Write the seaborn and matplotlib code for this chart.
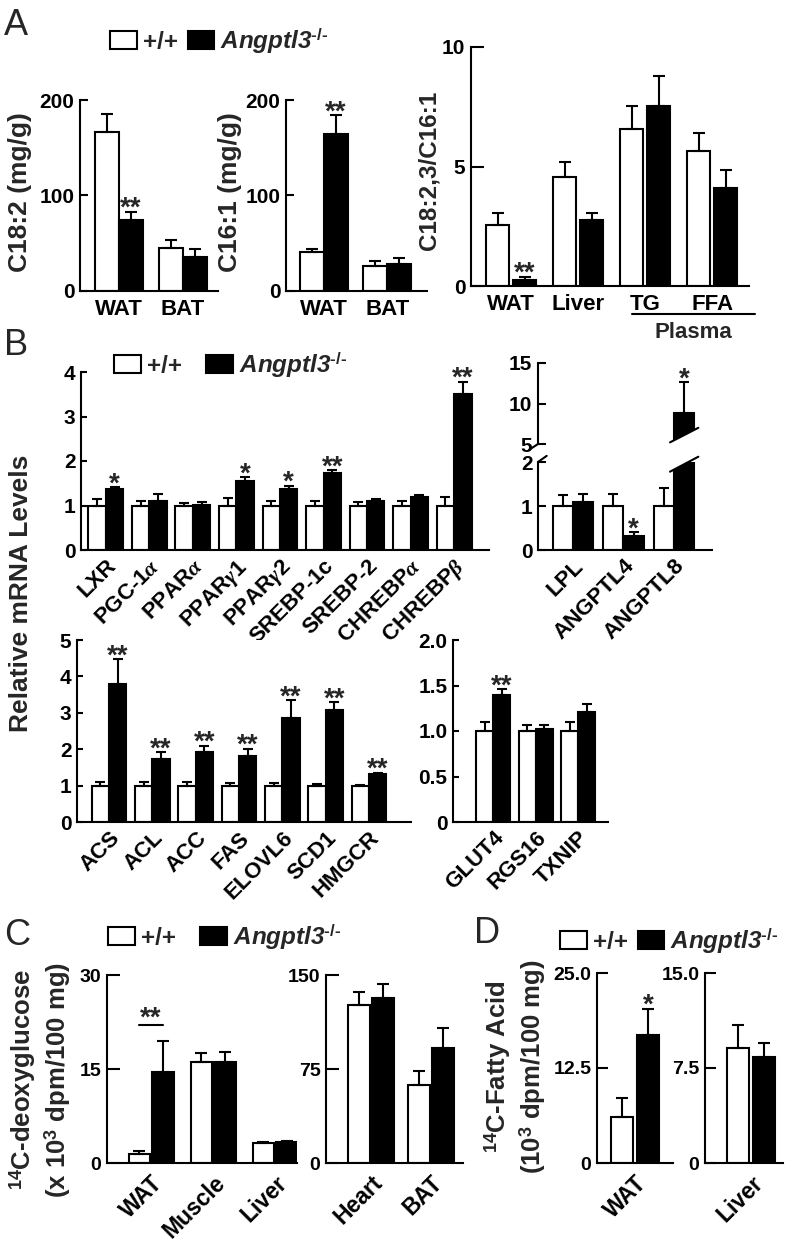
import numpy as np
import pandas as pd
import seaborn as sns
import matplotlib.pyplot as plt
from matplotlib.patches import Patch, Polygon

# ---- data ----
genotypes = ['+/+', 'Angptl3$^{\\text{-/-}}$']

# panel A
a_tissues = ['WAT', 'BAT']
c182_wt, c182_wt_err = [166, 45], [19, 8]
c182_ko, c182_ko_err = [74, 36], [9, 8]
c182_stars = ['**', '']
c161_wt, c161_wt_err = [41, 26], [3, 5]
c161_ko, c161_ko_err = [164, 28], [20, 7]
c161_stars = ['**', '']
ratio_cats = ['WAT', 'Liver', 'TG', 'FFA']
ratio_wt, ratio_wt_err = [2.55, 4.54, 6.55, 5.65], [0.5, 0.65, 1.0, 0.75]
ratio_ko, ratio_ko_err = [0.25, 2.76, 7.55, 4.12], [0.13, 0.3, 1.25, 0.75]
ratio_stars = ['**', '', '', '']

# panel B
b1_genes = ['LXR', 'PGC-1$\\alpha$', 'PPAR$\\alpha$', 'PPAR$\\gamma\\mathit{1}$', 'PPAR$\\gamma\\mathit{2}$',
            'SREBP-1c', 'SREBP-2', 'CHREBP$\\alpha$', 'CHREBP$\\beta$']
b1_wt = [1.0, 1.0, 1.0, 1.0, 1.0, 1.0, 1.0, 1.0, 1.0]
b1_wt_err = [0.14, 0.11, 0.05, 0.16, 0.11, 0.10, 0.08, 0.10, 0.18]
b1_ko = [1.37, 1.10, 1.01, 1.55, 1.38, 1.72, 1.11, 1.20, 3.51]
b1_ko_err = [0.04, 0.16, 0.07, 0.08, 0.06, 0.07, 0.03, 0.04, 0.27]
b1_stars = ['*', '', '', '*', '*', '**', '', '', '**']

b2_genes = ['LPL', 'ANGPTL4', 'ANGPTL8']
b2_wt, b2_wt_err = [1.0, 1.0, 1.0], [0.25, 0.28, 0.41]
b2_ko, b2_ko_err = [1.10, 0.32, 8.8], [0.18, 0.08, 3.85]
b2_stars = ['', '*', '*']

b3_genes = ['ACS', 'ACL', 'ACC', 'FAS', 'ELOVL6', 'SCD1', 'HMGCR']
b3_wt = [1.0, 1.0, 1.0, 1.0, 1.0, 1.0, 1.0]
b3_wt_err = [0.10, 0.10, 0.09, 0.07, 0.07, 0.05, 0.03]
b3_ko = [3.78, 1.74, 1.92, 1.80, 2.86, 3.08, 1.32]
b3_ko_err = [0.69, 0.18, 0.18, 0.21, 0.49, 0.21, 0.03]
b3_stars = ['**', '**', '**', '**', '**', '**', '**']

b4_genes = ['GLUT4', 'RGS16', 'TXNIP']
b4_wt, b4_wt_err = [1.0, 1.0, 1.0], [0.10, 0.07, 0.10]
b4_ko, b4_ko_err = [1.40, 1.02, 1.21], [0.06, 0.05, 0.09]
b4_stars = ['**', '', '']

# panel C
c1_tissues = ['WAT', 'Muscle', 'Liver']
c1_wt, c1_wt_err = [1.5, 16.1, 3.2], [0.45, 1.4, 0.2]
c1_ko, c1_ko_err = [14.6, 16.1, 3.35], [4.9, 1.6, 0.15]
c2_tissues = ['Heart', 'BAT']
c2_wt, c2_wt_err = [126, 62.4], [10.7, 11.4]
c2_ko, c2_ko_err = [131.4, 91.6], [11.4, 15.9]

# panel D
d1_tissues = ['WAT']
d1_wt, d1_wt_err = [6.0], [2.55]
d1_ko, d1_ko_err = [16.8], [3.5]
d1_stars = ['*']
d2_tissues = ['Liver']
d2_wt, d2_wt_err = [9.08], [1.84]
d2_ko, d2_ko_err = [8.37], [1.1]

# ---- style ----
sns.set_theme(style='ticks')
plt.rcParams['font.family'] = ['Liberation Sans', 'DejaVu Sans']
plt.rcParams['font.weight'] = 'bold'
plt.rcParams['mathtext.fontset'] = 'custom'
plt.rcParams['mathtext.rm'] = 'Liberation Sans:bold'
plt.rcParams['mathtext.it'] = 'Liberation Serif:italic'
plt.rcParams['mathtext.bf'] = 'Liberation Sans:bold'
plt.rcParams['axes.edgecolor'] = 'black'
plt.rcParams['axes.linewidth'] = 1.5
plt.rcParams['xtick.color'] = 'black'
plt.rcParams['ytick.color'] = 'black'

palette = {genotypes[0]: 'white', genotypes[1]: 'black'}

W, H = 789, 1244
fig = plt.figure(figsize=(W / 100, H / 100), dpi=100)
fig.patch.set_facecolor('white')


def box(l, t, r, b):
    return fig.add_axes([l / W, 1 - b / H, (r - l) / W, (b - t) / H])


def frame(cats, wt, ko):
    return pd.DataFrame({'cat': cats * 2,
                         'geno': [genotypes[0]] * len(cats) + [genotypes[1]] * len(cats),
                         'val': list(wt) + list(ko)})


def bars(ax, cats, wt, wt_err, ko, ko_err, stars=None, width=0.8, gap=0.0, cap=4.5, star_size=20):
    sns.barplot(data=frame(cats, wt, ko), x='cat', y='val', hue='geno', order=cats,
                hue_order=genotypes, palette=palette, width=width, gap=gap,
                edgecolor='black', linewidth=1.5, errorbar=None, legend=False, ax=ax)
    errs = list(wt_err) + list(ko_err)
    marks = [''] * len(cats) + list(stars if stars else [''] * len(cats))
    for p, e, s in zip(list(ax.patches), errs, marks):
        x = p.get_x() + p.get_width() / 2
        top = p.get_height()
        ax.errorbar(x, top, yerr=[[0], [e]], fmt='none', ecolor='black', elinewidth=1.5,
                    capsize=cap, capthick=1.5)
        if s:
            ax.annotate(s, (x, top + e), xytext=(0, -3), textcoords='offset points',
                        ha='center', va='baseline', fontsize=star_size, fontweight='bold')


def style(ax, xlim, ylim, yticks, ylabels, ysize=15, xsize=16, tick_len=6, rot=False, xpad=6):
    ax.set_xlim(xlim)
    ax.set_ylim(ylim)
    ax.set_yticks(yticks)
    ax.set_yticklabels(ylabels)
    ax.set_xlabel('')
    ax.set_ylabel('')
    sns.despine(ax=ax)
    ax.tick_params(axis='y', direction='in', length=tick_len, width=1.5, labelsize=ysize, pad=4)
    ax.tick_params(axis='x', length=0, labelsize=xsize, pad=xpad)
    if rot:
        for lab in ax.get_xticklabels():
            lab.set_rotation(45)
            lab.set_ha('right')
            lab.set_rotation_mode('anchor')


def legend(x, y, size, colsp):
    handles = [Patch(facecolor='white', edgecolor='black', linewidth=1.5),
               Patch(facecolor='black', edgecolor='black', linewidth=1.5)]
    leg = fig.legend(handles, genotypes, loc='center left', bbox_to_anchor=(x / W, 1 - y / H),
                     ncol=2, frameon=False, fontsize=size, handlelength=1.1, handleheight=0.75,
                     handletextpad=0.25, columnspacing=colsp, borderpad=0, borderaxespad=0)
    for t in leg.get_texts():
        t.set_fontweight('bold')
    leg.get_texts()[1].set_fontstyle('italic')


def ylab(x, y, text, size, ls=1.1):
    fig.text(x / W, 1 - y / H, text, rotation=90, ha='center', va='center',
             fontsize=size, fontweight='bold', linespacing=ls, multialignment='center')


def letter(x, y, s):
    fig.text(x / W, 1 - y / H, s, fontsize=26, fontweight='normal', ha='left', va='top')


# ---- panel A ----
letter(4, 8, 'A')
legend(110, 41, 17.5, 0.4)

ax = box(80, 100, 218, 291)
bars(ax, a_tissues, c182_wt, c182_wt_err, c182_ko, c182_ko_err, c182_stars, width=0.76)
style(ax, (-0.61, 1.55), (0, 200), [0, 100, 200], ['0', '100', '200'])
ylab(20, 192, 'C18:2 (mg/g)', 19)

ax = box(286, 100, 427, 291)
bars(ax, a_tissues, c161_wt, c161_wt_err, c161_ko, c161_ko_err, c161_stars, width=0.76)
style(ax, (-0.6, 1.63), (0, 200), [0, 100, 200], ['0', '100', '200'])
ylab(230, 192, 'C16:1 (mg/g)', 19)

ax = box(471, 47, 749, 286)
bars(ax, ratio_cats, ratio_wt, ratio_wt_err, ratio_ko, ratio_ko_err, ratio_stars,
     width=0.8, gap=0.15)
style(ax, (-0.6, 3.55), (0, 10), [0, 5, 10], ['0', '5', '10'], tick_len=9)
ylab(429, 170, 'C18:2,3/C16:1', 17.5)
tr = ax.get_xaxis_transform()
ax.plot([1.8, 3.64], [-0.117, -0.117], transform=tr, color='black', lw=1.5, clip_on=False)
ax.text(2.72, -0.15, 'Plasma', transform=tr, ha='center', va='top', fontsize=16,
        fontweight='bold')

# ---- panel B ----
letter(4, 328, 'B')
legend(114, 365, 17.5, 1.0)
ylab(21, 593, 'Relative mRNA Levels', 19)

ax = box(81, 372, 489, 550)
bars(ax, b1_genes, b1_wt, b1_wt_err, b1_ko, b1_ko_err, b1_stars, cap=3.5)
style(ax, (-0.57, 8.8), (0, 4), [0, 1, 2, 3, 4], ['0', '1', '2', '3', '4'],
      tick_len=4, rot=True, xpad=4)

# broken axis for LPL / ANGPTL4 / ANGPTL8
ax_up = box(538, 363, 712, 444)
ax_lo = box(538, 462, 712, 550)
for a in (ax_up, ax_lo):
    bars(a, b2_genes, b2_wt, b2_wt_err, b2_ko, b2_ko_err, b2_stars, cap=3.5)
style(ax_lo, (-0.69, 2.75), (0, 2), [0, 1, 2], ['0', '1', '2'], rot=True, xpad=4)
style(ax_up, (-0.69, 2.75), (5, 15), [5, 10, 15], ['5', '10', '15'])
ax_up.spines['bottom'].set_visible(False)
ax_up.set_xticks([])
ax_lo.plot([0, 0.05], [1, 1.07], transform=ax_lo.transAxes, color='black', lw=1.5, clip_on=False)
ax_up.plot([0, -0.05], [0, -0.07], transform=ax_up.transAxes, color='black', lw=1.5, clip_on=False)
p = ax_lo.patches[5]
x0, x1 = p.get_x() - 0.08, p.get_x() + p.get_width() + 0.08
ax_lo.add_patch(Polygon([(x0, 1.78), (x1, 2.12), (x1, 3), (x0, 3)], closed=True,
                        facecolor='white', edgecolor='none', zorder=3))
ax_lo.plot([x0, x1], [1.78, 2.12], color='black', lw=1.5, zorder=4, clip_on=False)
ax_up.add_patch(Polygon([(x0, 4), (x1, 4), (x1, 7.0), (x0, 5.2)], closed=True,
                        facecolor='white', edgecolor='none', zorder=3))
ax_up.plot([x0, x1], [5.2, 7.0], color='black', lw=1.5, zorder=4, clip_on=False)

ax = box(77, 640, 411, 822)
bars(ax, b3_genes, b3_wt, b3_wt_err, b3_ko, b3_ko_err, b3_stars, cap=3.5)
style(ax, (-0.74, 6.97), (0, 5), [0, 1, 2, 3, 4, 5], ['0', '1', '2', '3', '4', '5'],
      tick_len=4, rot=True, xpad=4)

ax = box(453, 640, 608, 822)
bars(ax, b4_genes, b4_wt, b4_wt_err, b4_ko, b4_ko_err, b4_stars, cap=3.5)
style(ax, (-0.94, 2.7), (0, 2), [0, 0.5, 1, 1.5, 2], ['0', '0.5', '1.0', '1.5', '2.0'],
      tick_len=4, rot=True, xpad=4)

# ---- panel C ----
letter(4, 918, 'C')
legend(108, 937, 17.5, 1.0)
ylab(40, 1080, '$^{14}$C-deoxyglucose\n(x 10$^{3}$ dpm/100 mg)', 18.5, ls=1.2)

ax = box(107, 975, 297, 1163)
bars(ax, c1_tissues, c1_wt, c1_wt_err, c1_ko, c1_ko_err, width=0.76, gap=0.1)
style(ax, (-0.71, 2.35), (0, 30), [0, 15, 30], ['0', '15', '30'], ysize=14, xsize=16.5,
      tick_len=9, rot=True)
pw, pk = ax.patches[0], ax.patches[len(c1_tissues)]
xw, xk = pw.get_x() + pw.get_width() / 2, pk.get_x() + pk.get_width() / 2
yb = max(c1_wt[0] + c1_wt_err[0], c1_ko[0] + c1_ko_err[0]) + 2.5
ax.plot([xw, xk], [yb, yb], color='black', lw=1.5)
ax.annotate('**', ((xw + xk) / 2, yb), xytext=(0, 0), textcoords='offset points',
            ha='center', va='baseline', fontsize=20, fontweight='bold')

ax = box(326, 975, 463, 1163)
bars(ax, c2_tissues, c2_wt, c2_wt_err, c2_ko, c2_ko_err, width=0.8, gap=0.08)
style(ax, (-0.75, 1.53), (0, 150), [0, 75, 150], ['0', '75', '150'], ysize=14, xsize=16.5,
      tick_len=9, rot=True)

# ---- panel D ----
letter(474, 916, 'D')
legend(560, 941, 17.5, 0.4)
ylab(515, 1067, '$^{14}$C-Fatty Acid\n(10$^{3}$ dpm/100 mg)', 18.5, ls=1.15)

ax = box(597, 973, 673, 1163)
bars(ax, d1_tissues, d1_wt, d1_wt_err, d1_ko, d1_ko_err, d1_stars, width=0.94, gap=0.15)
style(ax, (-0.69, 0.69), (0, 25), [0, 12.5, 25], ['0', '12.5', '25.0'], ysize=14,
      xsize=16.5, tick_len=8, rot=True)

ax = box(705, 973, 783, 1163)
bars(ax, d2_tissues, d2_wt, d2_wt_err, d2_ko, d2_ko_err, width=0.94, gap=0.15)
style(ax, (-0.84, 0.58), (0, 15), [0, 7.5, 15], ['0', '7.5', '15.0'], ysize=14,
      xsize=16.5, tick_len=8, rot=True)

fig.savefig('out.png', dpi=100, facecolor='white')
